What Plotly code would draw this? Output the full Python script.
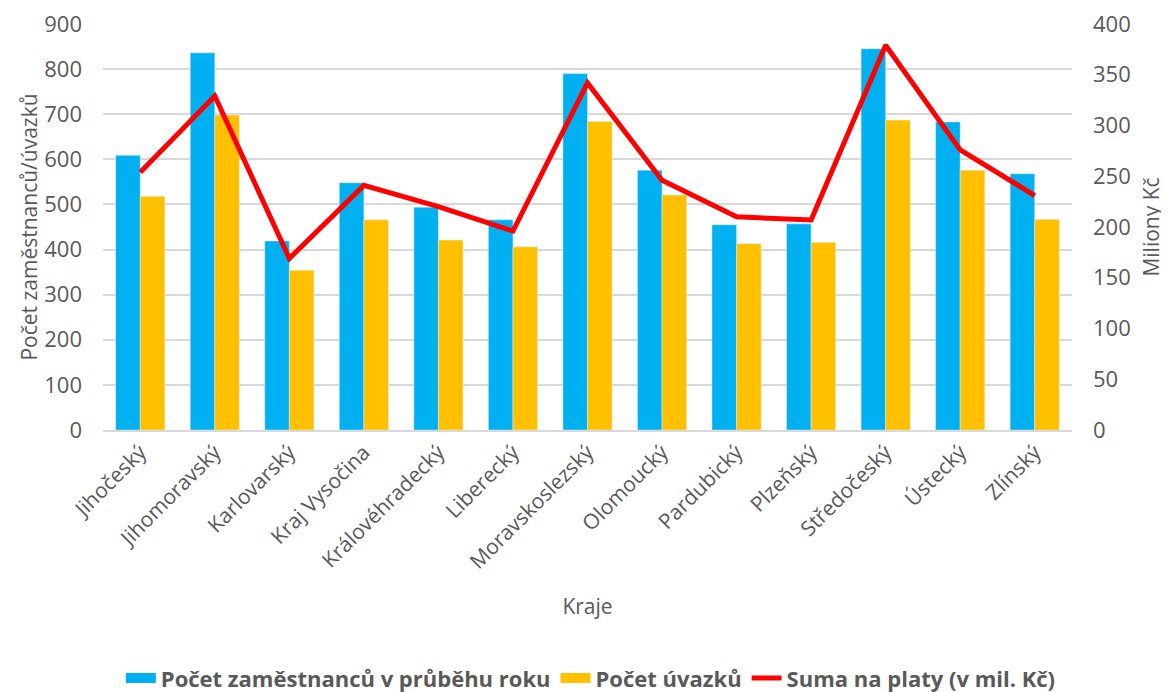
import plotly.graph_objects as go

# Data
kraje = [
    "Jihočeský", "Jihomoravský", "Karlovarský", "Kraj Vysočina",
    "Královéhradecký", "Liberecký", "Moravskoslezský", "Olomoucký",
    "Pardubický", "Plzeňský", "Středočeský", "Ústecký", "Zlínský",
]
zamestnanci = [609, 836, 419, 548, 494, 466, 790, 576, 455, 457, 845, 683, 568]
uvazky = [518, 698, 354, 466, 421, 406, 684, 521, 413, 416, 687, 576, 467]
platy = [254, 329, 169, 241, 220, 196, 342, 246, 210, 207, 379, 276, 231]

FONT = "Open Sans"
GREY = "#595959"
BLUE = "#00B0F0"
YELLOW = "#FFC000"
RED = "#FF0000"

fig = go.Figure()

fig.add_trace(go.Bar(
    x=kraje, y=zamestnanci,
    name="Počet zaměstnanců v průběhu roku",
    marker_color=BLUE, showlegend=False,
))
fig.add_trace(go.Bar(
    x=kraje, y=uvazky,
    name="Počet úvazků",
    marker_color=YELLOW, showlegend=False,
))
fig.add_trace(go.Scatter(
    x=kraje, y=platy,
    name="Suma na platy (v mil. Kč)",
    mode="lines",
    line=dict(color=RED, width=5),
    yaxis="y2", showlegend=False,
))

# legend entries with wide Excel-like swatches
for name, color, width in [
    ("Počet zaměstnanců v průběhu roku", BLUE, 17),
    ("Počet úvazků", YELLOW, 17),
    ("Suma na platy (v mil. Kč)", RED, 5),
]:
    fig.add_trace(go.Scatter(
        x=[None], y=[None], mode="lines", name=name,
        line=dict(color=color, width=width),
        showlegend=True, hoverinfo="skip",
    ))

# page body has an 8px margin, so the figure is sized/offset for that
fig.update_layout(
    width=1161, height=684,
    margin=dict(l=95, r=97, t=16, b=262, autoexpand=False),
    paper_bgcolor="white",
    plot_bgcolor="white",
    font=dict(family=FONT, color=GREY, size=20),
    barmode="group",
    bargap=0.34,
    bargroupgap=0,
    showlegend=True,
    legend=dict(
        orientation="h",
        xref="container", yref="container",
        x=0.502, xanchor="center",
        y=0.02, yanchor="middle",
        font=dict(family=FONT, size=22, color=GREY, weight="bold"),
        itemwidth=30,
        traceorder="normal",
    ),
    xaxis=dict(
        automargin=False,
        tickangle=-45,
        tickfont=dict(size=21),
        showline=True, linecolor="#D9D9D9", linewidth=1.5,
        title=dict(text="Kraje", font=dict(size=21), standoff=26),
        showgrid=False,
    ),
    yaxis=dict(
        automargin=False,
        range=[0, 900], dtick=100,
        showgrid=True, gridcolor="#D9D9D9", gridwidth=1.5,
        zeroline=False,
        tickfont=dict(size=22),
        ticklabelstandoff=20,
        ticklabeloverflow="allow",
        title=dict(text="Počet zaměstnanců/úvazků", font=dict(size=21), standoff=0),
    ),
    yaxis2=dict(
        automargin=False,
        range=[0, 400], dtick=50,
        overlaying="y", side="right",
        showgrid=False, zeroline=False,
        tickfont=dict(size=22),
        ticklabelstandoff=20,
        ticklabeloverflow="allow",
        title=dict(text="Miliony Kč", font=dict(size=21), standoff=14),
    ),
)

fig.write_html("out.html")
